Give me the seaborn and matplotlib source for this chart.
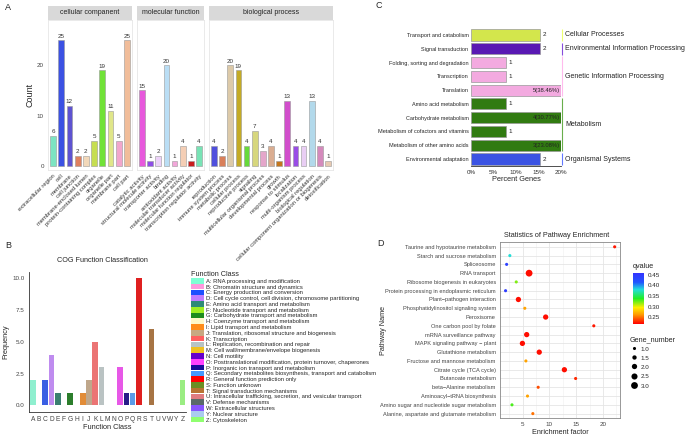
import numpy as np
import pandas as pd
import matplotlib
matplotlib.use("Agg")
import matplotlib.pyplot as plt
import seaborn as sns
from matplotlib.patches import Patch
from matplotlib.lines import Line2D
from matplotlib.colors import LinearSegmentedColormap, Normalize
from matplotlib.cm import ScalarMappable

# ---- panel A: GO classification ----
cc_terms = ["extracellular region", "cell", "membrane", "cell junction", "membrane-enclosed lumen",
            "protein-containing complex", "organelle", "organelle part", "membrane part", "cell part"]
cc_counts = [6, 25, 12, 2, 2, 5, 19, 11, 5, 25]
cc_colors = ["#6cf5c8", "#1f3cff", "#4d3ee6", "#f4774a", "#fbd9b0", "#d6f53a", "#66ff1a",
             "#eef57a", "#ff99cc", "#ffba8c"]

mf_terms = ["catalytic activity", "structural molecule activity", "transporter activity", "binding",
            "antioxidant activity", "molecular transducer activity", "molecular function regulator",
            "transcription regulator activity"]
mf_counts = [15, 1, 2, 20, 1, 4, 1, 4]
mf_colors = ["#ff40f0", "#8a33ff", "#f0ccff", "#b0e0ff", "#ff99dd", "#ffccaa", "#e60000", "#66f5b8"]

bp_terms = ["reproduction", "immune system process", "metabolic process", "cellular process",
            "reproductive process", "signaling", "multicellular organismal process",
            "developmental process", "growth", "response to stimulus", "localization",
            "multi-organism process", "biological regulation",
            "cellular component organization or biogenesis", "detoxification"]
bp_counts = [4, 2, 20, 19, 4, 7, 3, 4, 1, 13, 4, 4, 13, 4, 1]
bp_colors = ["#3838f5", "#ee7744", "#e6cca0", "#dfbd0a", "#5cf51f", "#e6e66e", "#ee9ccc",
             "#e6aa85", "#e07800", "#e838e0", "#9933ff", "#ecc8fa", "#a8dcf5", "#e07ec0", "#f0c8a8"]

# ---- panel B: COG classification ----
cog_letters = list("ABCDEFGHIJKLMNOPQRSTUVWYZ")
cog_counts = [2, 0, 2, 4, 1, 0, 1, 0, 1, 2, 5, 3, 0, 0, 3, 1, 1, 10, 0, 6, 0, 0, 0, 0, 2]
cog_colors = ["#7fffd4", "#ff99dd", "#1e4fff", "#c07cff", "#2e8b76", "#a0ee22", "#1e8c1e",
              "#fff8c8", "#ff8c1a", "#c8a882", "#ff6060", "#b8c4c4", "#f0c020", "#6600cc",
              "#ff40ff", "#1a0a9a", "#4499ff", "#ff0000", "#6b8e23", "#b87333", "#e07b80",
              "#5a6a6a", "#8855ff", "#aaccee", "#90ff70"]
cog_names = ["RNA processing and modification", "Chromatin structure and dynamics",
             "Energy production and conversion",
             "Cell cycle control, cell division, chromosome partitioning",
             "Amino acid transport and metabolism", "Nucleotide transport and metabolism",
             "Carbohydrate transport and metabolism", "Coenzyme transport and metabolism",
             "Lipid transport and metabolism", "Translation, ribosomal structure and biogenesis",
             "Transcription", "Replication, recombination and repair",
             "Cell wall/membrane/envelope biogenesis", "Cell motility",
             "Posttranslational modification, protein turnover, chaperones",
             "Inorganic ion transport and metabolism",
             "Secondary metabolites biosynthesis, transport and catabolism",
             "General function prediction only", "Function unknown",
             "Signal transduction mechanisms",
             "Intracellular trafficking, secretion, and vesicular transport",
             "Defense mechanisms", "Extracellular structures", "Nuclear structure", "Cytoskeleton"]

# ---- panel C: KEGG classification ----
kegg_terms = ["Transport and catabolism", "Signal transduction", "Folding, sorting and degradation",
              "Transcription", "Translation", "Amino acid metabolism", "Carbohydrate metabolism",
              "Metabolism of cofactors and vitamins", "Metabolism of other amino acids",
              "Environmental adaptation"]
kegg_counts = [2, 2, 1, 1, 5, 1, 4, 1, 3, 2]
kegg_class = ["Cellular Processes", "Environmental Information Processing",
              "Genetic Information Processing", "Genetic Information Processing",
              "Genetic Information Processing", "Metabolism", "Metabolism", "Metabolism",
              "Metabolism", "Organismal Systems"]
kegg_total = 13
class_colors = {"Cellular Processes": "#e6ff33", "Environmental Information Processing": "#5500cc",
                "Genetic Information Processing": "#ff9ee6", "Metabolism": "#2a8c00",
                "Organismal Systems": "#1f3fff"}

# ---- panel D: pathway enrichment ----
pw_names = ["Taurine and hypotaurine metabolism", "Starch and sucrose metabolism", "Spliceosome",
            "RNA transport", "Ribosome biogenesis in eukaryotes",
            "Protein processing in endoplasmic reticulum", "Plant\u2212pathogen interaction",
            "Phosphatidylinositol signaling system", "Peroxisome", "One carbon pool by folate",
            "mRNA surveillance pathway", "MAPK signaling pathway \u2212 plant",
            "Glutathione metabolism", "Fructose and mannose metabolism",
            "Citrate cycle (TCA cycle)", "Butanoate metabolism", "beta\u2212Alanine metabolism",
            "Aminoacyl\u2212tRNA biosynthesis", "Amino sugar and nucleotide sugar metabolism",
            "Alanine, aspartate and glutamate metabolism"]
pw_factor = [22.2, 2.6, 2.0, 6.2, 3.8, 1.8, 4.2, 5.4, 9.3, 18.3, 5.75, 4.95, 8.1, 5.6, 12.8,
             14.9, 7.9, 5.9, 3.0, 6.9]
pw_qvalue = [0.225, 0.38, 0.44, 0.222, 0.32, 0.445, 0.222, 0.265, 0.222, 0.225, 0.222, 0.222,
             0.222, 0.265, 0.222, 0.23, 0.24, 0.265, 0.33, 0.25]
pw_genes = [1, 1, 1, 3, 1, 1, 2, 1, 2, 1, 2, 2, 2, 1, 2, 1, 1, 1, 1, 1]

sns.set_style("white")
plt.rcParams["font.family"] = ["Liberation Sans", "DejaVu Sans"]

W, H = 685, 437
fig = plt.figure(figsize=(W / 100, H / 100), dpi=100)


def add_ax(l, t, r, b):
    return fig.add_axes([l / W, 1 - b / H, (r - l) / W, (b - t) / H])


# ---------------- A ----------------
facets = [("cellular companent", cc_terms, cc_counts, cc_colors, 48, 132),
          ("molecular function", mf_terms, mf_counts, mf_colors, 137, 204),
          ("biological process", bp_terms, bp_counts, bp_colors, 209, 333)]
for k, (title, terms, counts, cols, l, r) in enumerate(facets):
    ax = add_ax(l, 20, r, 170)
    df = pd.DataFrame({"term": terms, "count": counts})
    sns.barplot(data=df, x="term", y="count", hue="term", palette=cols, legend=False,
                width=0.7, edgecolor="#999999", linewidth=0.4, ax=ax)
    ax.set_xlim(-0.6, len(terms) - 0.4)
    ax.set_ylim(-0.8, 29)
    for i, c in enumerate(counts):
        ax.text(i, c + 0.3, str(c), ha="center", va="bottom", fontsize=4.5, color="#333333")
    ax.set_xticks(range(len(terms)))
    ax.set_xticklabels(terms, rotation=45, ha="right", rotation_mode="anchor", fontsize=4.2,
                       color="#333333")
    ax.set_xlabel("")
    ax.set_ylabel("")
    ax.set_yticks([0, 10, 20])
    if k == 0:
        ax.set_yticklabels(["0", "10", "20"], fontsize=4.5, color="#444444")
        ax.tick_params(axis="y", length=2, width=0.4, pad=1, color="#444444")
    else:
        ax.set_yticklabels([])
        ax.tick_params(axis="y", length=0)
    ax.tick_params(axis="x", length=1.5, width=0.4, pad=1, color="#444444")
    for s in ax.spines.values():
        s.set_color("#e6e6e6")
        s.set_linewidth(0.6)
    strip = add_ax(l, 6, r, 20)
    strip.set_facecolor("#d9d9d9")
    strip.set_xticks([])
    strip.set_yticks([])
    for s in strip.spines.values():
        s.set_visible(False)
    strip.text(0.5, 0.5, title, ha="center", va="center", fontsize=5, color="#222222",
               transform=strip.transAxes)

fig.text(30 / W, 1 - 95 / H, "Count", rotation=90, ha="center", va="center", fontsize=6.5)
fig.text(5 / W, 1 - 8 / H, "A", fontsize=6.5, va="center")

# ---------------- B ----------------
axB = add_ax(29, 272, 186.4, 411.7)
dfB = pd.DataFrame({"cls": cog_letters, "n": cog_counts})
sns.barplot(data=dfB, x="cls", y="n", hue="cls", palette=cog_colors, legend=False, width=0.9,
            linewidth=0, ax=axB)
axB.set_xlim(-0.6, len(cog_letters) - 0.4)
axB.set_ylim(-0.5, 10.5)
axB.set_yticks([0, 2.5, 5, 7.5, 10])
axB.set_yticklabels(["0.0", "2.5", "5.0", "7.5", "10.0"], fontsize=4.5, color="#444444")
axB.set_xticks(range(len(cog_letters)))
axB.set_xticklabels(cog_letters, fontsize=4.8, color="#444444")
axB.tick_params(length=2, width=0.4, pad=1, color="#333333")
axB.set_xlabel("Function Class", fontsize=5.3, labelpad=1)
axB.set_ylabel("Frequency", fontsize=5.3, labelpad=2)
for side in ["top", "right"]:
    axB.spines[side].set_visible(False)
for side in ["left", "bottom"]:
    axB.spines[side].set_color("#333333")
    axB.spines[side].set_linewidth(0.6)
fig.text(102 / W, 1 - 261 / H, "COG Function Classification", ha="center", va="center",
         fontsize=5.2)
fig.text(5 / W, 1 - 245 / H, "B", fontsize=6.5, va="center")

handles = [Patch(facecolor=c, edgecolor="none") for c in cog_colors]
labels = [f"{a}: {n}" for a, n in zip(cog_letters, cog_names)]
leg = axB.legend(handles, labels, loc="upper left", bbox_to_anchor=(191 / W, 1 - 271 / H),
                 bbox_transform=fig.transFigure, frameon=False, fontsize=4.2,
                 title="Function Class", title_fontsize=5.2, alignment="left",
                 labelspacing=0.0, handlelength=2.2, handleheight=1.1, handletextpad=0.3,
                 borderpad=0, borderaxespad=0)

# ---------------- C ----------------
axC = add_ax(471.3, 28.1, 561, 165.9)
dfC = pd.DataFrame({"term": kegg_terms, "pct": np.array(kegg_counts) / kegg_total * 100,
                    "cls": kegg_class})
sns.barplot(data=dfC, x="pct", y="term", hue="cls", palette=class_colors, legend=False,
            orient="h", dodge=False, width=0.8, edgecolor="#999999", linewidth=0.5, ax=axC)
axC.set_xlim(0, 20)
axC.set_ylim(9.5, -0.5)
for i, (c, p) in enumerate(zip(kegg_counts, dfC["pct"])):
    if p > 20:
        axC.text(19.7, i, f"{c}({p:.2f}%)", ha="right", va="center", fontsize=4.2,
                 color="#222222")
    else:
        axC.text(p + 0.5, i, str(c), ha="left", va="center", fontsize=4.5, color="#222222")
axC.set_xticks([0, 5, 10, 15, 20])
axC.set_xticklabels(["0%", "5%", "10%", "15%", "20%"], fontsize=4.5, color="#333333")
axC.tick_params(axis="x", length=2, width=0.4, pad=1)
axC.tick_params(axis="y", length=0, pad=2, labelsize=4.0)
axC.set_ylabel("")
axC.set_xlabel("Percent Genes", fontsize=5.3, labelpad=1)
for side in ["top", "right", "left"]:
    axC.spines[side].set_visible(False)
axC.spines["bottom"].set_color("#333333")
axC.spines["bottom"].set_linewidth(0.6)

for cls, col in class_colors.items():
    rows = [i for i, c in enumerate(kegg_class) if c == cls]
    axC.vlines(20.2, min(rows) - 0.45, max(rows) + 0.45, color=col, lw=0.8, alpha=0.7,
               clip_on=False)
    axC.text(21.0, (min(rows) + max(rows)) / 2, cls, ha="left", va="center", fontsize=5.0,
             color="#222222", clip_on=False)
fig.text(376 / W, 1 - 6 / H, "C", fontsize=6.5, va="center")

# ---------------- D ----------------
axD = add_ax(500, 242, 620, 418)
cmap = LinearSegmentedColormap.from_list(
    "q", [(0, "#ff0000"), (0.18, "#ff9900"), (0.32, "#ffee00"), (0.5, "#22ee22"),
          (0.68, "#22dddd"), (0.82, "#2255ff"), (1, "#3333ff")])
q_norm = Normalize(0.218, 0.458)
dfD = pd.DataFrame({"name": pw_names, "factor": pw_factor, "q": pw_qvalue, "genes": pw_genes})
axD.set_axisbelow(True)
axD.set_xticks([2.5, 7.5, 12.5, 17.5, 22.5], minor=True)
axD.grid(True, which="major", color="#e5e5e5", lw=0.6)
axD.grid(True, which="minor", axis="x", color="#f0f0f0", lw=0.4)
sns.scatterplot(data=dfD, x="factor", y="name", hue="q", size="genes", palette=cmap,
                hue_norm=q_norm, sizes=(5, 24), size_norm=(1, 3), legend=False,
                linewidth=0, ax=axD)
axD.set_xlim(0.76, 23.2)
axD.set_ylim(19.5, -0.55)
axD.set_xticks([5, 10, 15, 20])
axD.tick_params(axis="x", labelsize=4.5, length=2, width=0.4, pad=1, colors="#444444")
axD.tick_params(axis="y", labelsize=4.1, length=2, width=0.4, pad=1, colors="#444444")
axD.tick_params(which="minor", length=0)
axD.set_xlabel("Enrichment factor", fontsize=5.2, labelpad=1)
axD.set_ylabel("Pathway Name", fontsize=5.2)
axD.yaxis.set_label_coords((387 - 500) / 120, 0.5)
for s in axD.spines.values():
    s.set_color("#888888")
    s.set_linewidth(0.6)
fig.text(557 / W, 1 - 235 / H, "Statistics of Pathway Enrichment", ha="center", va="center",
         fontsize=5.2)
fig.text(377 / W, 1 - 244 / H, "D", fontsize=6.5, va="center")

cax = add_ax(633, 273, 644, 324)
cb = fig.colorbar(ScalarMappable(norm=q_norm, cmap=cmap), cax=cax)
cb.set_ticks([0.25, 0.30, 0.35, 0.40, 0.45])
cb.set_ticklabels(["0.25", "0.30", "0.35", "0.40", "0.45"])
cb.outline.set_visible(False)
cax.tick_params(labelsize=4.5, length=2, color="white", pad=1)
fig.text(633 / W, 1 - 266 / H, "qvalue", fontsize=5.2, va="center")

size_vals = [1.0, 1.5, 2.0, 2.5, 3.0]
size_handles = [Line2D([], [], marker="o", ls="", color="black", markeredgewidth=0,
                       markersize=np.sqrt(5 + (v - 1) / 2 * 19)) for v in size_vals]
axD.legend(size_handles, [f"{v:.1f}" for v in size_vals], loc="upper left",
           bbox_to_anchor=(630 / W, 1 - 336 / H), bbox_transform=fig.transFigure,
           frameon=False, fontsize=4.5, title="Gene_number", title_fontsize=5.2,
           alignment="left", labelspacing=0.32, handleheight=1.4, handlelength=1.2,
           handletextpad=0.5, borderpad=0, borderaxespad=0)

fig.savefig("out.png", dpi=100)
